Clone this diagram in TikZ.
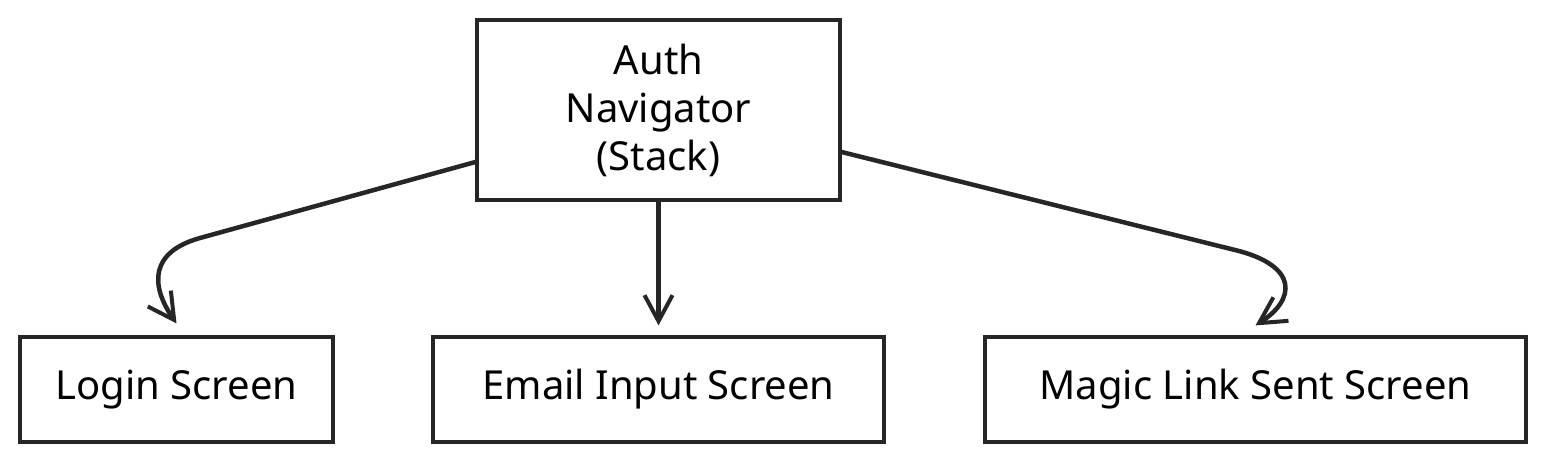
\documentclass[tikz,border=0pt]{standalone}
\usepackage{fontspec}
\setmainfont{Noto Sans}
\usetikzlibrary{arrows.meta}

\begin{document}
\begin{tikzpicture}[x=1pt, y=-1pt,
    screen/.style={draw=black!85, line width=3.2pt, align=center, inner sep=0, font=\fontsize{40}{48}\selectfont},
    link/.style={draw=black!85, line width=4.5pt, line cap=round, -{Straight Barb[length=26pt, width=28pt, line width=4pt]}}]

  \useasboundingbox (0,0) rectangle (1545,462);

  \node[screen, minimum width=363pt, minimum height=180pt] (auth) at (658.5,110) {Auth\\Navigator\\(Stack)};
  \node[screen, minimum width=313pt, minimum height=105pt] (login) at (176.5,389.5) {Login Screen};
  \node[screen, minimum width=451pt, minimum height=105pt] (email) at (658.5,389.5) {Email Input Screen};
  \node[screen, minimum width=541pt, minimum height=105pt] (magic) at (1255.5,389.5) {Magic Link Sent Screen};

  \draw[link] ([yshift=-52pt]auth.west) -- (200,238) .. controls (150,252) and (150,285) .. ([yshift=12pt]login.north);
  \draw[link] (auth.south) -- ([yshift=10pt]email.north);
  \draw[link] ([yshift=-42pt]auth.east) -- (1235,250) .. controls (1300,266) and (1295,300) .. ([yshift=10pt]magic.north);
\end{tikzpicture}
\end{document}
